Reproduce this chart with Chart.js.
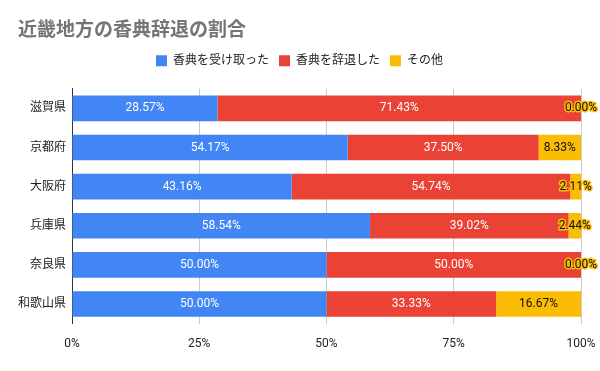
<!DOCTYPE html>
<html>
<head>
<meta charset="utf-8">
<script src="https://cdn.jsdelivr.net/npm/chart.js@4/dist/chart.umd.min.js"></script>
<style>
html,body{margin:0;padding:0;background:#fff;}
#wrap{width:600px;height:371px;position:relative;}
</style>
</head>
<body>
<div id="wrap"><canvas id="c" width="600" height="371"></canvas></div>
<script>
const categories = ['滋賀県', '京都府', '大阪府', '兵庫県', '奈良県', '和歌山県'];
const seriesNames = ['香典を受け取った', '香典を辞退した', 'その他'];
const received = [28.57, 54.17, 43.16, 58.54, 50.00, 50.00];
const declined = [71.43, 37.50, 54.74, 39.02, 50.00, 33.33];
const other = [0.00, 8.33, 2.11, 2.44, 0.00, 16.67];
const xTicks = [0, 25, 50, 75, 100];

const FONT = "Roboto, 'Noto Sans CJK JP', sans-serif";
const colors = ['#4285F4', '#EA4335', '#FBBC04'];

const labelPlugin = {
  id: 'barLabels',
  afterDatasetsDraw(chart) {
    const ctx = chart.ctx;
    ctx.save();
    ctx.font = '12px ' + FONT;
    ctx.textAlign = 'center';
    ctx.textBaseline = 'middle';
    chart.data.datasets.forEach((ds, di) => {
      const meta = chart.getDatasetMeta(di);
      meta.data.forEach((bar, i) => {
        const v = ds.data[i];
        const cx = (bar.x + bar.base) / 2;
        const cy = bar.y;
        const txt = v.toFixed(2) + '%';
        if (di === 2) {
          ctx.lineJoin = 'round';
          ctx.lineWidth = 3;
          ctx.strokeStyle = '#FBBC04';
          ctx.strokeText(txt, cx, cy);
          ctx.fillStyle = '#111';
          ctx.fillText(txt, cx, cy);
        } else {
          ctx.fillStyle = '#ffffff';
          ctx.fillText(txt, cx, cy);
        }
      });
    });
    ctx.restore();
  }
};

const legendSpace = {
  id: 'legendSpace',
  beforeInit(chart) {
    const lg = chart.legend;
    if (!lg) return;
    const fit = lg.fit;
    lg.fit = function () { fit.call(this); this.height += 12; };
  }
};

new Chart(document.getElementById('c'), {
  type: 'bar',
  data: {
    labels: categories,
    datasets: [
      { label: seriesNames[0], data: received, backgroundColor: colors[0] },
      { label: seriesNames[1], data: declined, backgroundColor: colors[1] },
      { label: seriesNames[2], data: other, backgroundColor: colors[2] }
    ]
  },
  options: {
    indexAxis: 'y',
    responsive: false,
    animation: false,
    devicePixelRatio: 1,
    layout: { padding: { left: 18, right: 19, top: 20, bottom: 7 } },
    datasets: { bar: { barPercentage: 0.82, categoryPercentage: 0.8 } },
    scales: {
      x: {
        stacked: true,
        min: 0, max: 100,
        afterBuildTicks(scale) { scale.ticks = xTicks.map(v => ({ value: v })); },
        afterFit(scale) { scale.paddingLeft = 0; scale.paddingRight = 0; },
        ticks: { callback: v => v + '%', color: '#222', font: { family: FONT, size: 12 }, padding: 13, maxRotation: 0 },
        grid: { color: '#cccccc', drawTicks: false },
        border: { display: false }
      },
      y: {
        stacked: true,
        ticks: { color: '#222', font: { family: FONT, size: 12 }, padding: 6 },
        grid: { display: false, drawTicks: false },
        border: { display: true, color: '#333333', width: 1 },
        afterFit(scale) { scale.width = 54; }
      }
    },
    plugins: {
      title: {
        display: true,
        text: '近畿地方の香典辞退の割合',
        align: 'start',
        color: '#757575',
        font: { family: FONT, size: 19, weight: 'bold' },
        padding: { top: 0, bottom: 2 }
      },
      legend: {
        display: true,
        position: 'top',
        labels: {
          boxWidth: 11, boxHeight: 11,
          color: '#222',
          font: { family: FONT, size: 12 },
          padding: 10
        }
      },
      tooltip: { enabled: false }
    }
  },
  plugins: [labelPlugin, legendSpace]
});
</script>
</body>
</html>
